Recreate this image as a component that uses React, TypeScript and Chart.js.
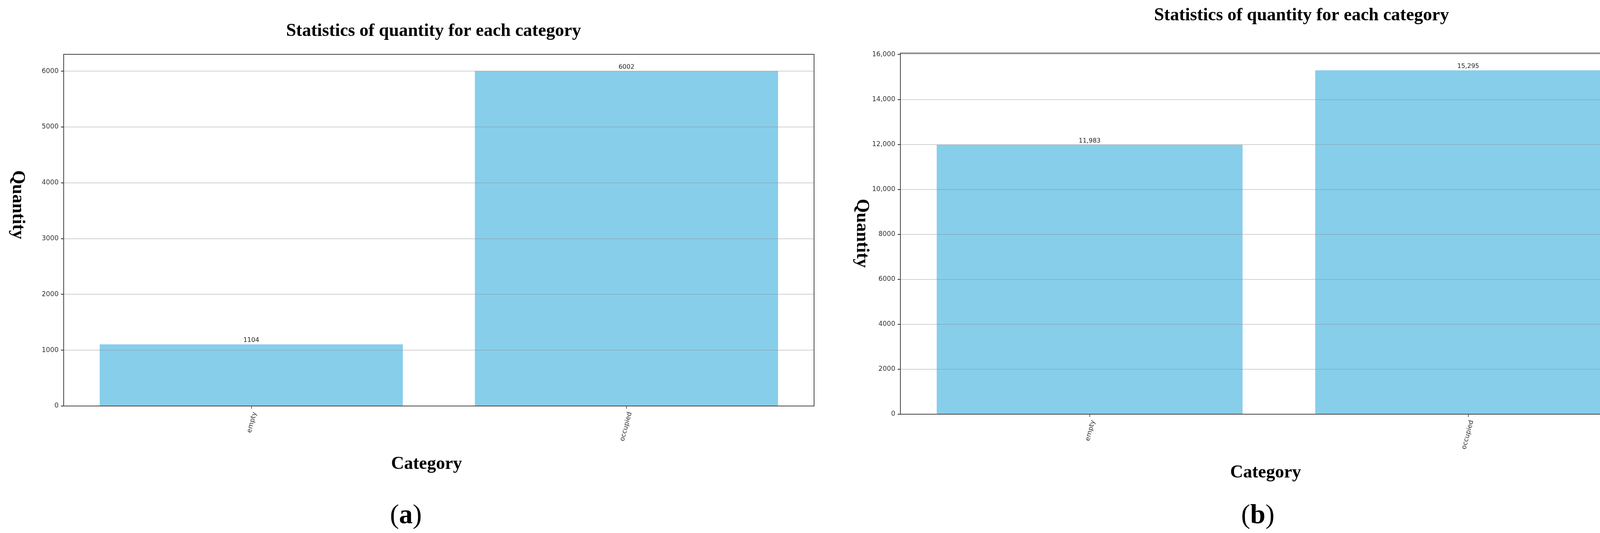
import React, { useEffect, useRef } from "react";
import { Chart, registerables } from "chart.js";

Chart.register(...registerables);

// data
const categories = ["empty", "occupied"];
const countsA = [1104, 6002];
const countsB = [11983, 15295];
const yTicksA = [0, 1000, 2000, 3000, 4000, 5000, 6000];
const yTicksB = [0, 2000, 4000, 6000, 8000, 10000, 12000, 14000, 16000];
const yMaxA = 6302;
const yMaxB = 16060;

const TITLE = "Statistics of quantity for each category";
const SERIF = "'Liberation Serif', 'Times New Roman', serif";
const SANS = "'DejaVu Sans', sans-serif";

const plainFmt = (v: number) => String(v);
const commaFmt = (v: number) =>
  v >= 10000 ? v.toLocaleString("en-US") : String(v);

interface PanelProps {
  left: number;
  width: number;
  values: number[];
  ticks: number[];
  yMax: number;
  fmt: (v: number) => string;
  area: { left: number; top: number; right: number; bottom: number };
  titlePos: [number, number];
  xTitlePos: [number, number];
  yTitlePos: [number, number];
  caption: string;
  captionPos: [number, number];
}

const H = 1364;
const Y_AXIS_W = 80;
const X_AXIS_H = 120;

// frame around the plot (matplotlib spines)
const framePlugin = {
  id: "frame",
  afterDraw: (chart: any) => {
    const { ctx, chartArea } = chart;
    ctx.save();
    ctx.strokeStyle = "#444";
    ctx.lineWidth = 2;
    ctx.strokeRect(
      chartArea.left,
      chartArea.top,
      chartArea.right - chartArea.left,
      chartArea.bottom - chartArea.top
    );
    ctx.restore();
  },
};

const Panel: React.FC<PanelProps> = (p) => {
  const canvasRef = useRef<HTMLCanvasElement | null>(null);

  useEffect(() => {
    if (!canvasRef.current) return;

    const valueLabels = {
      id: "valueLabels",
      afterDatasetsDraw: (chart: any) => {
        const ctx = chart.ctx;
        const meta = chart.getDatasetMeta(0);
        ctx.save();
        ctx.font = `16px ${SANS}`;
        ctx.fillStyle = "#222";
        ctx.textAlign = "center";
        ctx.textBaseline = "bottom";
        meta.data.forEach((bar: any, i: number) => {
          ctx.fillText(p.fmt(p.values[i]), bar.x, bar.y - 2);
        });
        ctx.restore();
      },
    };

    const texts = {
      id: "texts",
      afterDraw: (chart: any) => {
        const ctx = chart.ctx;
        ctx.save();
        ctx.fillStyle = "#000";
        ctx.textAlign = "center";
        ctx.textBaseline = "alphabetic";
        ctx.font = `bold 46px ${SERIF}`;
        ctx.fillText(TITLE, p.titlePos[0], p.titlePos[1]);
        ctx.fillText("Category", p.xTitlePos[0], p.xTitlePos[1]);

        // y label reads top to bottom
        ctx.save();
        ctx.translate(p.yTitlePos[0], p.yTitlePos[1]);
        ctx.rotate(Math.PI / 2);
        ctx.textBaseline = "middle";
        ctx.fillText("Quantity", 0, 0);
        ctx.restore();

        // sub-figure caption: "(" + bold letter + ")"
        const reg = `70px ${SERIF}`;
        const bold = `bold 70px ${SERIF}`;
        ctx.textAlign = "left";
        ctx.font = reg;
        const wp = ctx.measureText("(").width;
        const wq = ctx.measureText(")").width;
        ctx.font = bold;
        const wl = ctx.measureText(p.caption).width;
        let x = p.captionPos[0] - (wp + wl + wq) / 2;
        const y = p.captionPos[1];
        ctx.font = reg;
        ctx.fillText("(", x, y);
        x += wp;
        ctx.font = bold;
        ctx.fillText(p.caption, x, y);
        x += wl;
        ctx.font = reg;
        ctx.fillText(")", x, y);
        ctx.restore();
      },
    };

    const chart = new Chart(canvasRef.current, {
      type: "bar",
      data: {
        labels: categories,
        datasets: [
          {
            data: p.values,
            backgroundColor: "#87CEEB",
            borderWidth: 0,
            categoryPercentage: 1,
            barPercentage: 0.808,
          },
        ],
      },
      options: {
        animation: false,
        responsive: true,
        maintainAspectRatio: false,
        layout: {
          padding: {
            left: p.area.left - Y_AXIS_W,
            top: p.area.top,
            right: p.width - p.area.right,
            bottom: H - p.area.bottom - X_AXIS_H,
          },
        },
        plugins: {
          legend: { display: false },
          tooltip: { enabled: false },
          title: { display: false },
        },
        scales: {
          x: {
            afterFit: (scale: any) => {
              scale.height = X_AXIS_H;
            },
            border: { display: false },
            grid: {
              display: true,
              drawOnChartArea: false,
              drawTicks: true,
              offset: false,
              tickLength: 7,
              tickColor: "#333",
              lineWidth: 1.5,
            },
            ticks: {
              autoSkip: false,
              minRotation: 75,
              maxRotation: 75,
              padding: 6,
              labelOffset: 9,
              color: "#333",
              font: { family: SANS, size: 17 },
            },
          },
          y: {
            min: 0,
            max: p.yMax,
            afterFit: (scale: any) => {
              scale.width = Y_AXIS_W;
            },
            afterBuildTicks: (scale: any) => {
              scale.ticks = p.ticks.map((value) => ({ value }));
            },
            border: { display: false },
            grid: {
              z: 1,
              color: "rgba(140,140,140,0.4)",
              lineWidth: 2,
              tickLength: 7,
              tickColor: "#333",
            },
            ticks: {
              includeBounds: false,
              padding: 6,
              color: "#333",
              font: { family: SANS, size: 17 },
              callback: (v: any) => p.fmt(Number(v)),
            },
          },
        },
      },
      plugins: [valueLabels, framePlugin, texts],
    });

    return () => {
      chart.destroy();
    };
  }, [p]);

  return (
    <div
      style={{
        position: "absolute",
        left: p.left,
        top: 0,
        width: p.width,
        height: H,
      }}
    >
      <canvas ref={canvasRef}></canvas>
    </div>
  );
};

const panelA: PanelProps = {
  left: 0,
  width: 2140,
  values: countsA,
  ticks: yTicksA,
  yMax: yMaxA,
  fmt: plainFmt,
  area: { left: 163, top: 139, right: 2084, bottom: 1039 },
  titlePos: [1110, 92],
  xTitlePos: [1092, 1200],
  yTitlePos: [45, 524],
  caption: "a",
  captionPos: [1039, 1339],
};

const panelB: PanelProps = {
  left: 2140,
  width: 2141,
  values: countsB,
  ticks: yTicksB,
  yMax: yMaxB,
  fmt: commaFmt,
  area: { left: 165, top: 136, right: 2103, bottom: 1060 },
  titlePos: [1192, 52],
  xTitlePos: [1100, 1222],
  yTitlePos: [66, 597],
  caption: "b",
  captionPos: [1080, 1339],
};

export default function App() {
  return (
    <div
      style={{
        position: "absolute",
        left: 0,
        top: 0,
        width: 4281,
        height: H,
        background: "#fff",
      }}
    >
      <Panel {...panelA} />
      <Panel {...panelB} />
    </div>
  );
}
